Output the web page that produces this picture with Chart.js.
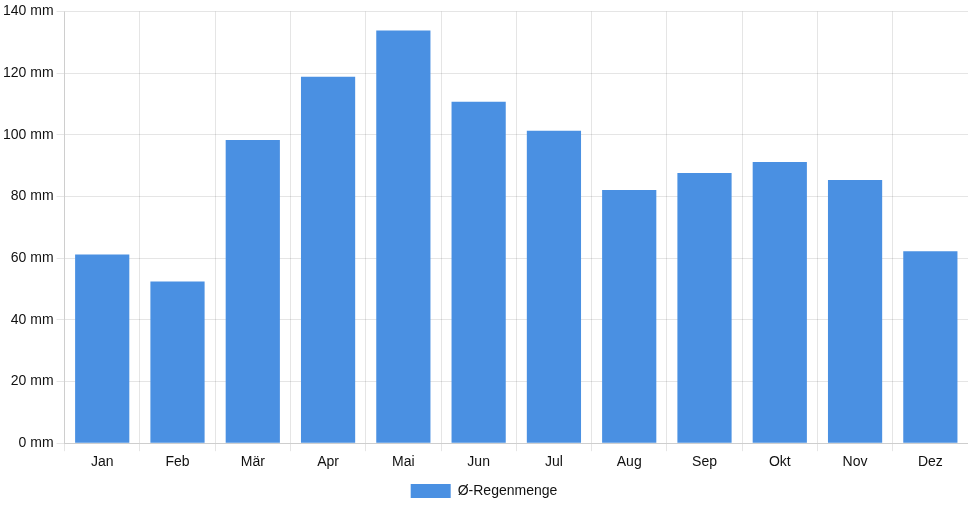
<!DOCTYPE html>
<html>
<head>
<meta charset="utf-8">
<script src="https://cdn.jsdelivr.net/npm/chart.js@4"></script>
<style>
  html, body { margin: 0; padding: 0; background: #fff; }
  #wrap { width: 968px; height: 508px; }
</style>
</head>
<body>
<div id="wrap"><canvas id="rainChart"></canvas></div>
<script>
// Monatsnamen und durchschnittliche Regenmenge
const months = ['Jan', 'Feb', 'Mär', 'Apr', 'Mai', 'Jun', 'Jul', 'Aug', 'Sep', 'Okt', 'Nov', 'Dez'];
const rainfall = [61.2, 52.4, 98.3, 118.8, 133.8, 110.7, 101.3, 82.1, 87.6, 91.2, 85.3, 62.2];
const seriesLabel = 'Ø-Regenmenge';

Chart.defaults.font.family = '"Liberation Sans", Arial, sans-serif';
Chart.defaults.font.size = 14;
Chart.defaults.color = '#111';

new Chart(document.getElementById('rainChart'), {
    type: 'bar',
    data: {
        labels: months,
        datasets: [{
            label: seriesLabel,
            data: rainfall,
            backgroundColor: '#4a90e2',
            borderWidth: 0
        }]
    },
    options: {
        responsive: true,
        maintainAspectRatio: false,
        animation: false,
        layout: { padding: { top: 2 } },
        plugins: {
            legend: {
                position: 'bottom',
                labels: { boxWidth: 40, boxHeight: 14 }
            },
            tooltip: { enabled: false }
        },
        scales: {
            y: {
                beginAtZero: true,
                max: 140,
                ticks: {
                    stepSize: 20,
                    callback: v => v + ' mm'
                }
            }
        }
    }
});
</script>
</body>
</html>
